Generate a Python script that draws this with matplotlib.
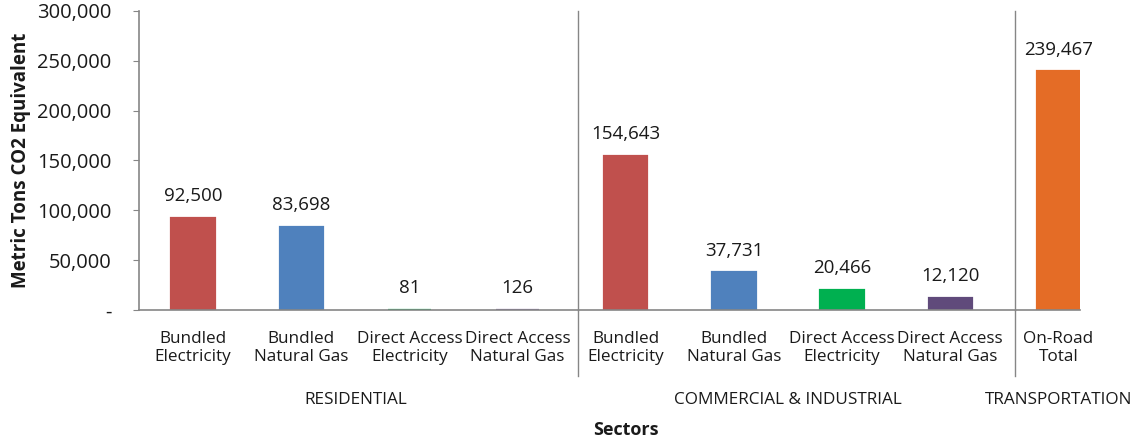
import matplotlib.pyplot as plt
from matplotlib.ticker import FuncFormatter

plt.rcParams['font.family'] = ['Open Sans', 'DejaVu Sans']

categories = ['Bundled\nElectricity', 'Bundled\nNatural Gas', 'Direct Access\nElectricity', 'Direct Access\nNatural Gas',
              'Bundled\nElectricity', 'Bundled\nNatural Gas', 'Direct Access\nElectricity', 'Direct Access\nNatural Gas',
              'On-Road\nTotal']
values = [92500, 83698, 81, 126, 154643, 37731, 20466, 12120, 239467]
colors = ['#C0504D', '#4F81BD', '#00B050', '#8064A2',
          '#C0504D', '#4F81BD', '#00B050', '#604A7B', '#E46C26']
groups = ['RESIDENTIAL', 'COMMERCIAL & INDUSTRIAL', 'TRANSPORTATION']
group_centers = [1.5, 5.5, 8.0]
yticks = [0, 50000, 100000, 150000, 200000, 250000, 300000]

fig = plt.figure(figsize=(11.36, 4.4), dpi=100)
ax = fig.add_axes([0.1224, 0.2955, 0.8283, 0.68])

x = list(range(len(values)))
ax.bar(x, values, width=0.4, color=colors, edgecolor=colors, linewidth=1.6)

for xi, v in zip(x, values):
    ax.annotate(f'{v:,}', (xi, v), xytext=(0, 9), textcoords='offset points',
                ha='center', va='bottom', fontsize=13.5, color='#1a1a1a')

ax.set_xlim(-0.5, 8.2)
ax.set_ylim(0, 300000)
ax.set_yticks(yticks)
ax.yaxis.set_major_formatter(FuncFormatter(lambda v, p: '-' if v == 0 else f'{int(v):,}'))
ax.tick_params(axis='y', direction='out', length=4, color='#868686', labelsize=14.5,
               labelcolor='#1a1a1a', pad=16)
ax.set_xticks(x)
ax.set_xticklabels(categories, fontsize=12.3, color='#1a1a1a', linespacing=1.2)
ax.tick_params(axis='x', length=0, pad=15)

for s in ['top', 'right']:
    ax.spines[s].set_visible(False)
for s in ['left', 'bottom']:
    ax.spines[s].set_color('#868686')
    ax.spines[s].set_linewidth(1.2)

# group separators, running down into the label area
for sx in [3.56, 7.6]:
    ax.plot([sx, sx], [0, 1], transform=ax.get_xaxis_transform(), color='#868686', lw=1, clip_on=False)
    ax.plot([sx, sx], [0, -0.22], transform=ax.get_xaxis_transform(), color='#868686', lw=1, clip_on=False)

for gc, g in zip(group_centers, groups):
    ax.text(gc, -0.30, g, transform=ax.get_xaxis_transform(), ha='center', va='center',
            fontsize=12.3, color='#1a1a1a')

ax.text(4.0, -0.40, 'Sectors', transform=ax.get_xaxis_transform(), ha='center', va='center',
        fontsize=13, fontweight='bold', color='#1a1a1a')
ax.set_ylabel('Metric Tons CO2 Equivalent', fontsize=13.5, fontweight='bold', color='#1a1a1a', labelpad=4)

fig.savefig('out.png', dpi=100)
